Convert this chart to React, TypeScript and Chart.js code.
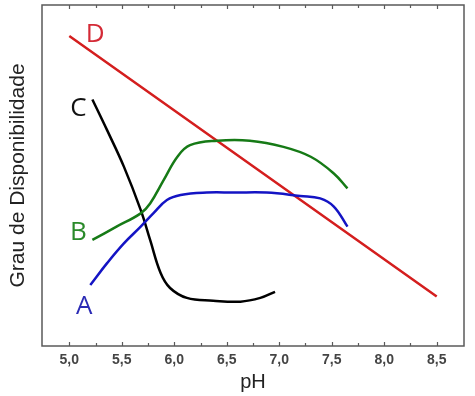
import React, { useEffect, useRef } from "react";
import { Chart, registerables } from "chart.js";

Chart.register(...registerables);

// pH tick labels on the x axis
const xTickValues = [5.0, 5.5, 6.0, 6.5, 7.0, 7.5, 8.0, 8.5];
const xMinorTicks = [5.25, 5.75, 6.25, 6.75, 7.25, 7.75, 8.25];

// Series A (blue)
const phA = [5.2, 5.36, 5.52, 5.68, 5.8, 5.93, 6.06, 6.31, 6.57, 6.88, 7.2, 7.39, 7.52, 7.65];
const valA = [17.9, 24.3, 30.1, 35.0, 38.9, 42.8, 44.3, 45.0, 45.0, 45.0, 44.0, 43.3, 40.9, 35.0];

// Series B (green)
const phB = [5.22, 5.45, 5.68, 5.77, 5.9, 6.03, 6.15, 6.41, 6.72, 7.04, 7.3, 7.52, 7.65];
const valB = [31.1, 35.0, 38.9, 41.8, 48.7, 55.5, 58.9, 60.2, 60.2, 58.4, 55.5, 50.6, 46.2];

// Series C (black)
const phC = [5.22, 5.36, 5.52, 5.68, 5.77, 5.87, 5.96, 6.12, 6.37, 6.63, 6.82, 6.96];
const valC = [72.3, 63.3, 52.6, 39.9, 31.1, 21.4, 17.0, 14.1, 13.3, 13.0, 14.1, 15.9];

// Series D (red)
const phD = [5.0, 8.5];
const valD = [90.9, 14.5];

const seriesNames = ["A", "B", "C", "D"];

const toXY = (xs: number[], ys: number[]) => xs.map((x, i) => ({ x, y: ys[i] }));

const labelOffsets: Record<string, [number, number]> = {
  A: [-6, 22],
  B: [-14, -7],
  C: [-14, 9],
  D: [26, -1],
};

const labelColors: Record<string, string> = {
  A: "#2b2bb5",
  B: "#2a8a2a",
  C: "#111111",
  D: "#d42a36",
};

const framePlugin = {
  id: "frameTicks",
  afterDraw(chart: any) {
    const { ctx, chartArea } = chart;
    const xs = chart.scales.x;
    ctx.save();
    ctx.strokeStyle = "#5a5a5a";
    ctx.lineWidth = 1.5;
    ctx.strokeRect(chartArea.left, chartArea.top, chartArea.right - chartArea.left, chartArea.bottom - chartArea.top);
    ctx.lineWidth = 1.2;
    const drawTick = (v: number, len: number) => {
      const px = Math.round(xs.getPixelForValue(v)) + 0.5;
      ctx.beginPath();
      ctx.moveTo(px, chartArea.bottom);
      ctx.lineTo(px, chartArea.bottom - len);
      ctx.moveTo(px, chartArea.top);
      ctx.lineTo(px, chartArea.top + len);
      ctx.stroke();
    };
    xTickValues.forEach((v) => drawTick(v, 4));
    xMinorTicks.forEach((v) => drawTick(v, 3));
    ctx.restore();
  },
};

const letterPlugin = {
  id: "letters",
  afterDatasetsDraw(chart: any) {
    const { ctx } = chart;
    ctx.save();
    ctx.font = '26px "Open Sans", "Liberation Sans", sans-serif';
    ctx.textAlign = "center";
    ctx.textBaseline = "middle";
    chart.data.datasets.forEach((ds: any, i: number) => {
      const meta = chart.getDatasetMeta(i);
      const p = meta.data[0];
      const name = seriesNames[i];
      const off = labelOffsets[name];
      ctx.fillStyle = labelColors[name];
      ctx.fillText(name, p.x + off[0], p.y + off[1]);
    });
    ctx.restore();
  },
};

export default function App() {
  const ref = useRef<HTMLCanvasElement>(null);
  useEffect(() => {
    const chart = new Chart(ref.current as HTMLCanvasElement, {
      type: "line",
      data: {
        datasets: [
          { label: "A", data: toXY(phA, valA), borderColor: "#1414c4" },
          { label: "B", data: toXY(phB, valB), borderColor: "#167a16" },
          { label: "C", data: toXY(phC, valC), borderColor: "#000000" },
          { label: "D", data: toXY(phD, valD), borderColor: "#d41e1e" },
        ].map((d) => ({
          ...d,
          borderWidth: 2.5,
          pointRadius: 0,
          fill: false,
          tension: 0.4,
        })),
      },
      options: {
        animation: false,
        responsive: false,
        layout: { padding: { top: 5, right: 11, left: 0, bottom: 0 } },
        plugins: { legend: { display: false }, tooltip: { enabled: false } },
        scales: {
          x: {
            type: "linear",
            min: 4.74,
            max: 8.76,
            afterBuildTicks: (s: any) => {
              s.ticks = xTickValues.map((v) => ({ value: v }));
            },
            afterFit: (s: any) => {
              s.height = 50;
            },
            grid: { display: false, drawTicks: false },
            border: { display: false },
            ticks: {
              autoSkip: false,
              maxRotation: 0,
              padding: 6,
              color: "#444444",
              font: { family: '"Liberation Sans Narrow", Arial, "Liberation Sans", sans-serif', size: 14, weight: "bold" },
              callback: (v: any) => Number(v).toFixed(1).replace(".", ","),
            },
            title: {
              display: true,
              text: "pH",
              color: "#222222",
              font: { family: 'Arial, "Liberation Sans", sans-serif', size: 20 },
              padding: { top: 0, bottom: 2 },
            },
          },
          y: {
            min: 0,
            max: 100,
            afterFit: (s: any) => {
              s.width = 42;
            },
            ticks: { display: false },
            grid: { display: false, drawTicks: false },
            border: { display: false },
            title: {
              display: true,
              text: "Grau de Disponibilidade",
              color: "#222222",
              font: { family: 'Arial, "Liberation Sans", sans-serif', size: 21 },
              padding: { top: 6, bottom: 0 },
            },
          },
        },
      } as any,
      plugins: [framePlugin, letterPlugin],
    });
    return () => chart.destroy();
  }, []);
  return (
    <div style={{ position: "absolute", left: 0, top: 0, width: 475, height: 396, background: "#fff" }}>
      <canvas ref={ref} width={475} height={396} />
    </div>
  );
}
